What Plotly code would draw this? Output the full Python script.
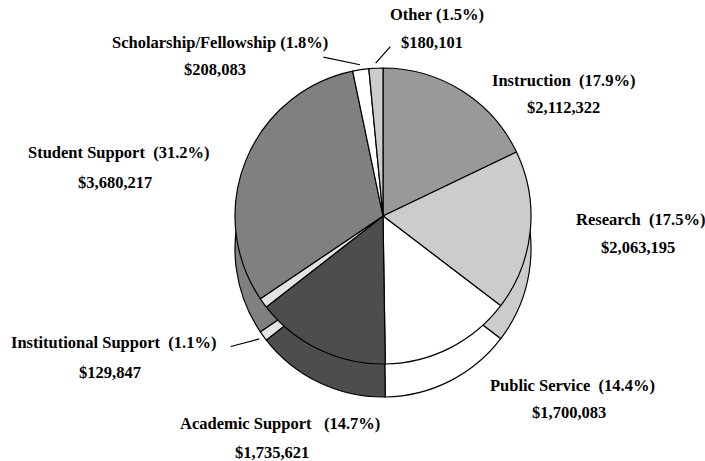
import numpy as np
import plotly.graph_objects as go

# ---- data ----
categories = ["Instruction", "Research", "Public Service", "Academic Support",
              "Institutional Support", "Student Support",
              "Scholarship/Fellowship", "Other"]
amounts = [2112322, 2063195, 1700083, 1735621, 129847, 3680217, 208083, 180101]
colors = ["#999999", "#cccccc", "#ffffff", "#4d4d4d",
          "#e3e3e3", "#808080", "#ffffff", "#cccccc"]

# ---- geometry (pixels) ----
W, H = 705, 461
CX, CY, R, DEPTH = 383, 216, 148, 33


def domain(cx, cy, r):
    return dict(x=[(cx - r) / W, (cx + r) / W],
                y=[(H - cy - r) / H, (H - cy + r) / H])


total = sum(amounts)
pcts = [a / total * 100 for a in amounts]

fig = go.Figure()
common = dict(values=amounts, labels=categories, sort=False, direction="clockwise",
              rotation=0, textinfo="none", hoverinfo="skip",
              marker=dict(colors=colors, line=dict(color="black", width=1.2)),
              showlegend=False)
# side (depth) layer
fig.add_trace(go.Pie(domain=domain(CX, CY + DEPTH, R), **common))
# top face
fig.add_trace(go.Pie(domain=domain(CX, CY, R), **common))

FONT = dict(family="Liberation Serif, Times New Roman, serif", size=16.5, color="black")

# label positions (pixel centres: name line, value line)
label_pos = {
    "Instruction": ((563, 80), (563, 107)),
    "Research": ((640, 220), (638, 247)),
    "Public Service": ((572, 385), (569, 412)),
    "Academic Support": ((280, 423), (272, 452)),
    "Institutional Support": ((113, 342), (110, 372)),
    "Student Support": ((119, 152), (115, 182)),
    "Scholarship/Fellowship": ((220, 42), (215, 70)),
    "Other": ((437, 15), (432, 42)),
}
gap = {"Scholarship/Fellowship": " ", "Other": " ", "Academic Support": "\u00a0\u00a0\u00a0"}

for cat, amt, p in zip(categories, amounts, pcts):
    (lx, ly), (vx, vy) = label_pos[cat]
    sep = gap.get(cat, "\u00a0\u00a0")
    fig.add_annotation(x=lx / W, y=1 - ly / H, xref="paper", yref="paper",
                       text=f"<b>{cat}{sep}({p:.1f}%)</b>", showarrow=False,
                       xanchor="center", yanchor="middle", font=FONT)
    fig.add_annotation(x=vx / W, y=1 - vy / H, xref="paper", yref="paper",
                       text=f"<b>${amt:,}</b>", showarrow=False,
                       xanchor="center", yanchor="middle", font=FONT)

# leader lines for the small slices
cum = np.cumsum([0] + amounts)
leaders = {"Scholarship/Fellowship": (-38, -8, 0),
           "Other": (16, -18, 0),
           "Institutional Support": (-30, 8, DEPTH)}
for i, cat in enumerate(categories):
    if cat not in leaders:
        continue
    ax, ay, dy = leaders[cat]
    mid = (cum[i] + cum[i + 1]) / 2 / total * 2 * np.pi
    tx = CX + (R + 5) * np.sin(mid)
    ty = CY + dy - (R + 5) * np.cos(mid)
    fig.add_annotation(x=tx / W, y=1 - ty / H, xref="paper", yref="paper",
                       text="", showarrow=True, arrowhead=0, arrowwidth=1.2,
                       arrowcolor="black", ax=ax, ay=ay, standoff=0)

fig.update_layout(width=W, height=H, margin=dict(l=0, r=0, t=0, b=0),
                  paper_bgcolor="white", plot_bgcolor="white")
fig.write_html("out.html", config={"displayModeBar": False},
               post_script="document.body.style.margin='0';document.body.style.overflow='hidden';")
